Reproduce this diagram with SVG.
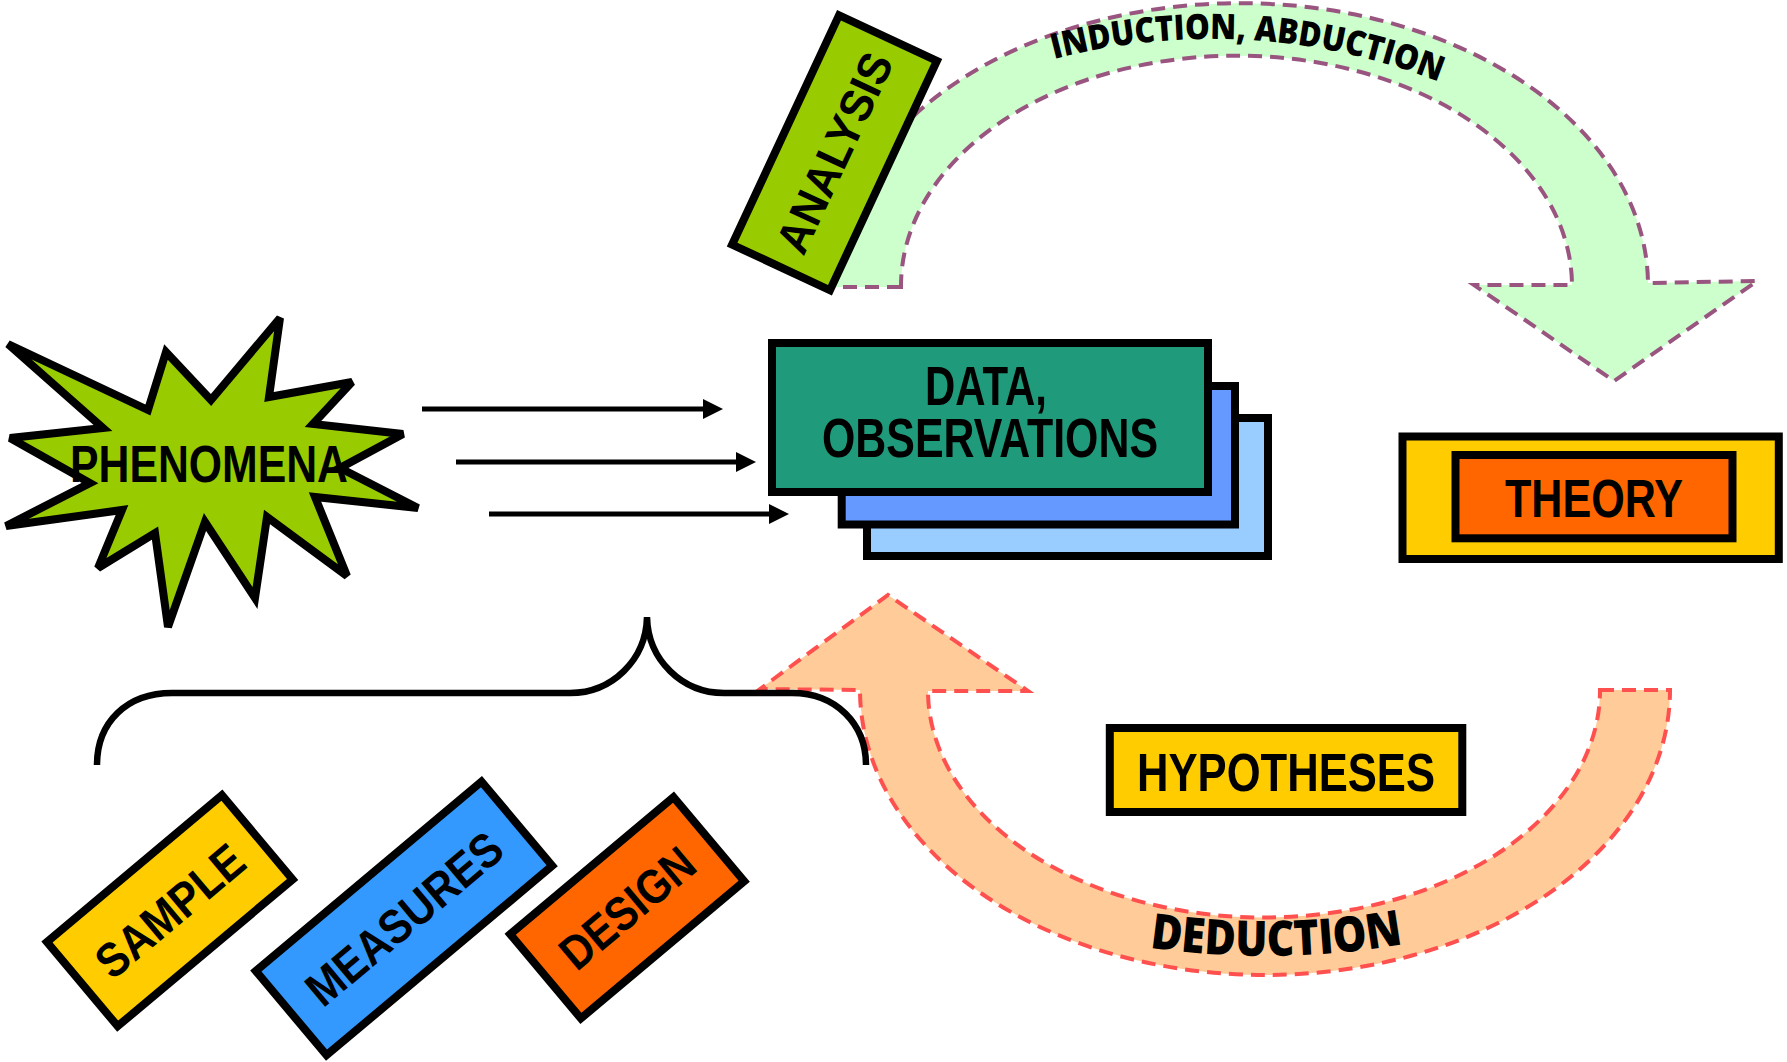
<svg xmlns="http://www.w3.org/2000/svg" width="1787" height="1062" viewBox="0 0 1787 1062">
<style>
.box{stroke:#000;stroke-width:8;stroke-linejoin:miter}
.lbl{font-family:"Liberation Sans",Arial,sans-serif;font-weight:bold;fill:#000;text-anchor:middle}
.arc{font-family:"Open Sans","Liberation Sans",sans-serif;font-weight:800;fill:#000;text-anchor:middle}
.conn{stroke:#000;stroke-width:5;fill:none}
</style>
<defs>
<marker id="ah" markerUnits="userSpaceOnUse" markerWidth="20" markerHeight="20" viewBox="0 0 20 20" refX="0" refY="10" orient="auto">
<path d="M0,0 L20,10 L0,20 z" fill="#000"/>
</marker>
<path id="indPath" d="M585.5,665 A626,626 0 0 1 1837.5,665"/>
<path id="dedPath" d="M465,156 A800,800 0 0 0 2065,156"/>
</defs>
<rect width="1787" height="1062" fill="#fff"/>

<g id="induction-arrow">
<path d="M901,287 L832,287 A408,282 0 0 1 1648,283 L1757,281 L1614,381 L1474,285 L1572,285 A335,230 0 0 0 901,287 Z" fill="#CCFFCC" stroke="#995580" stroke-width="4" stroke-dasharray="14 8"/>
<text class="arc" font-size="35"><textPath href="#indPath" startOffset="1020" textLength="392" lengthAdjust="spacingAndGlyphs">INDUCTION, ABDUCTION</textPath></text>
</g>

<g id="analysis" transform="translate(834.5,152.75) rotate(-65)">
<rect class="box" x="-126.5" y="-54" width="253" height="108" fill="#99CC00"/>
<text class="lbl" x="0" y="16" font-size="46" textLength="215" lengthAdjust="spacingAndGlyphs">ANALYSIS</text>
</g>

<g id="deduction-arrow">
<path d="M1600,690 L1670,690 A405,285 0 0 1 860,690 L760,689 L888,595 L1028,691 L928,691 A336,227 0 0 0 1600,690 Z" fill="#FFCC99" stroke="#FF5050" stroke-width="4" stroke-dasharray="14 8"/>
<text class="arc" font-size="49"><textPath href="#dedPath" startOffset="1268" textLength="255" lengthAdjust="spacingAndGlyphs">DEDUCTION</textPath></text>
</g>

<g id="phenomena">
<polygon points="8,344 148,410 166,352 211,400 280,318 269,397 352,382 313,424 403,434 340,468 418,508 315,497 347,576 267,517 255,598 205,522 168,627 155,533 98,568 122,510 6,526 90,483 10,438 103,428" fill="#99CC00" stroke="#000" stroke-width="8" stroke-miterlimit="3"/>
<text class="lbl" x="209" y="482" font-size="52" textLength="278" lengthAdjust="spacingAndGlyphs">PHENOMENA</text>
</g>

<g id="data">
<rect class="box" x="867" y="418" width="401" height="138" fill="#99CCFF"/>
<rect class="box" x="841.7" y="386" width="393.3" height="138.5" fill="#6699FF"/>
<rect class="box" x="772" y="343" width="436" height="149" fill="#1F9A7A"/>
<text class="lbl" x="986" y="405" font-size="56" textLength="122" lengthAdjust="spacingAndGlyphs">DATA,</text>
<text class="lbl" x="990" y="457" font-size="56" textLength="336" lengthAdjust="spacingAndGlyphs">OBSERVATIONS</text>
</g>

<g id="theory">
<rect class="box" x="1402.5" y="436.5" width="376.3" height="122.5" fill="#FFCC00"/>
<rect class="box" x="1455.5" y="455" width="277" height="83.3" fill="#FF6600"/>
<text class="lbl" x="1594" y="517" font-size="53" textLength="178" lengthAdjust="spacingAndGlyphs">THEORY</text>
</g>

<g id="hypotheses">
<rect class="box" x="1109.8" y="728" width="352.5" height="84" fill="#FFCC00" stroke-width="7.5"/>
<text class="lbl" x="1286" y="790.5" font-size="53.6" textLength="298" lengthAdjust="spacingAndGlyphs">HYPOTHESES</text>
</g>

<g id="brace">
<path d="M97,765 C97,722 127,693 172,693 L570,693 C612,693 646,660 647,617 C648,660 682,693 724,693 L792,693 C836,693 866,724 866,765" fill="none" stroke="#000" stroke-width="6.5"/>
</g>

<g id="sample" transform="translate(169.8,910.7) rotate(-40)">
<rect class="box" x="-114.2" y="-55" width="228.4" height="110" fill="#FFCC00"/>
<text class="lbl" x="0" y="17" font-size="48" textLength="178" lengthAdjust="spacingAndGlyphs">SAMPLE</text>
</g>

<g id="measures" transform="translate(404,918.4) rotate(-40)">
<rect class="box" x="-147.3" y="-55" width="294.6" height="110" fill="#3399FF"/>
<text class="lbl" x="0" y="17" font-size="48" textLength="240" lengthAdjust="spacingAndGlyphs">MEASURES</text>
</g>

<g id="design" transform="translate(627.2,907.75) rotate(-40)">
<rect class="box" x="-106.6" y="-55" width="213.2" height="110" fill="#FF6600"/>
<text class="lbl" x="0" y="17" font-size="48" textLength="160" lengthAdjust="spacingAndGlyphs">DESIGN</text>
</g>

<g id="connectors">
<line class="conn" x1="422" y1="409" x2="703" y2="409" marker-end="url(#ah)"/>
<line class="conn" x1="456" y1="462" x2="736" y2="462" marker-end="url(#ah)"/>
<line class="conn" x1="489" y1="514" x2="769" y2="514" marker-end="url(#ah)"/>
</g>
</svg>
